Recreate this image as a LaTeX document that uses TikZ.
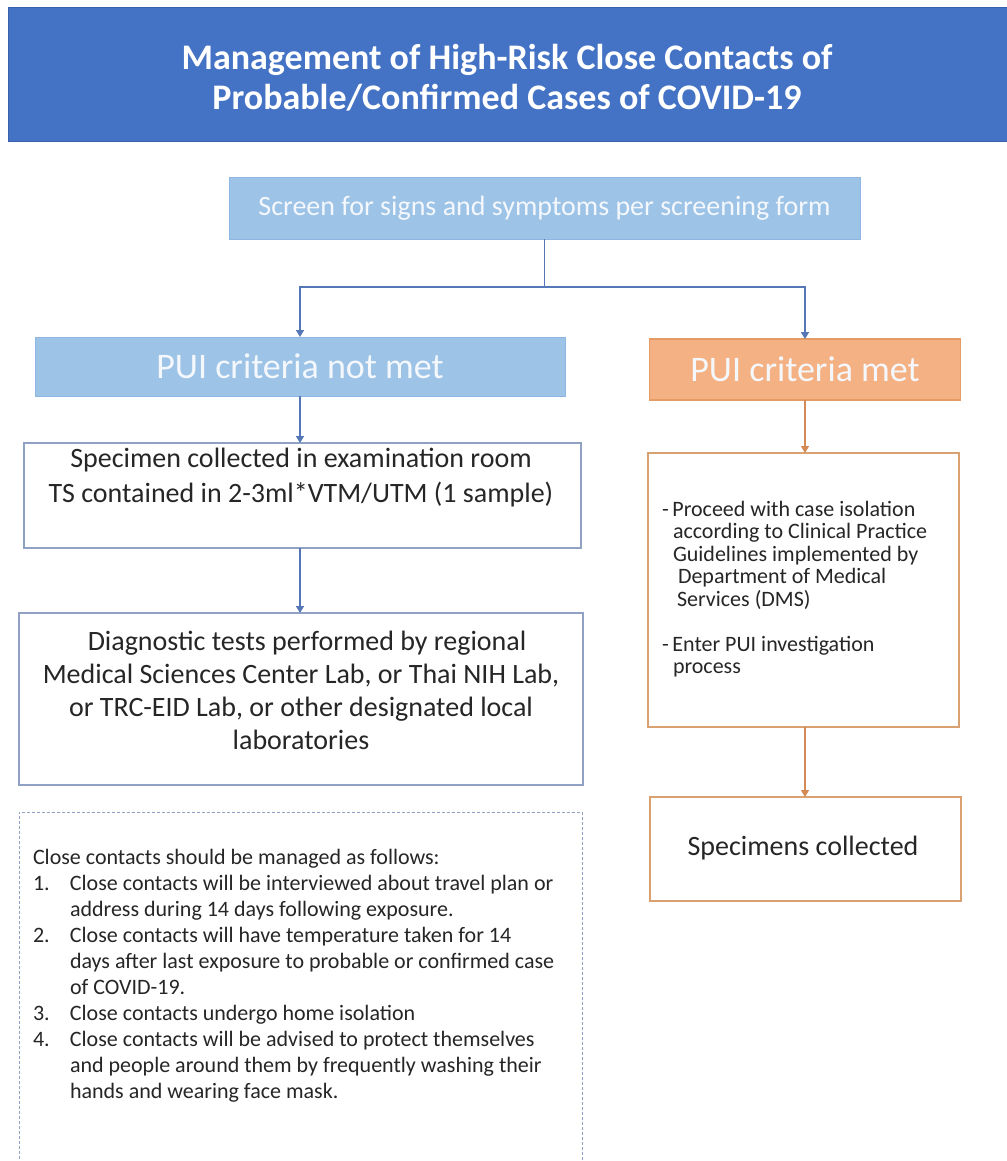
\documentclass[tikz,border=0pt]{standalone}
\usepackage{fontspec}
\setmainfont{Carlito}
\usetikzlibrary{arrows.meta}
\definecolor{banner}{HTML}{4472C4}
\definecolor{bannerline}{HTML}{3A62AC}
\definecolor{lightblue}{HTML}{9DC3E6}
\definecolor{lightblueline}{HTML}{8FB6E0}
\definecolor{blueline}{HTML}{5677B5}
\definecolor{grayline}{HTML}{8FA2C4}
\definecolor{orangefill}{HTML}{F4B183}
\definecolor{orangeline}{HTML}{E69A64}
\definecolor{orangearrow}{HTML}{D38A55}
\definecolor{orangebox}{HTML}{D9A070}
\definecolor{txt}{HTML}{262626}
\definecolor{softwhite}{HTML}{F4F8FD}
\begin{document}
\begin{tikzpicture}[x=1pt,y=-1pt,
  every node/.style={inner sep=0pt,outer sep=0pt},
  bannerbox/.style={draw=bannerline,fill=banner,line width=1pt},
  bluebox/.style={draw=lightblueline,fill=lightblue,line width=1pt},
  whitebox/.style={draw=grayline,fill=white,line width=1.2pt},
  dashbox/.style={draw=grayline,fill=white,line width=0.9pt,dash pattern=on 3pt off 2pt},
  orangebox/.style={draw=orangeline,fill=orangefill,line width=1.2pt},
  obox/.style={draw=orangebox,fill=white,line width=1.4pt},
  barrow/.style={draw=blueline,line width=1.5pt,-{Triangle[length=7pt,width=8pt]}},
  bline/.style={draw=blueline,line width=1.5pt},
  oarrow/.style={draw=orangearrow,line width=1.5pt,-{Triangle[length=7pt,width=8pt]}},
  bodytext/.style={text=txt,font=\fontsize{28}{33}\selectfont,align=center},
]
\useasboundingbox (0,0) rectangle (1006,1161);
\fill[white] (0,0) rectangle (1006,1161);

% title banner
\node[bannerbox,minimum width=1010pt,minimum height=134pt] (banner) at (513,75) {};
\node[text=white,font=\fontsize{36}{40}\selectfont\bfseries,align=center] (title) at (507,78)
  {Management of High-Risk Close Contacts of\\Probable/Confirmed Cases of COVID-19};

% screen box
\node[bluebox,minimum width=631pt,minimum height=61pt,text=softwhite,font=\fontsize{28}{33}\selectfont] (screen) at (544.5,208.5)
  {Screen for signs and symptoms per screening form};

% criteria boxes
\node[bluebox,minimum width=530pt,minimum height=59pt,text=softwhite,font=\fontsize{36}{40}\selectfont] (notmet) at (300,366.5)
  {PUI criteria not met};
\node[orangebox,minimum width=311pt,minimum height=61pt,text=softwhite,font=\fontsize{36}{40}\selectfont] (met) at (805,369.5)
  {PUI criteria met};

% left column
\node[whitebox,minimum width=557pt,minimum height=105pt] (spec) at (302.5,495.5) {};
\node[bodytext,font=\fontsize{28}{35}\selectfont] (spectxt) at (301,478)
  {Specimen collected in examination room\\TS contained in 2-3ml*VTM/UTM (1 sample)};

\node[whitebox,minimum width=564pt,minimum height=172pt] (diag) at (301,699) {};
\node[bodytext] (diagtxt) at (301,690)
  {\hspace*{12pt}Diagnostic tests performed by regional\\Medical Sciences Center Lab, or Thai NIH Lab,\\or TRC-EID Lab, or other designated local\\laboratories};

\node[dashbox,minimum width=563pt,minimum height=365pt] (notes) at (300.5,994.5) {};
\node[text=txt,font=\fontsize{22}{26}\selectfont,align=left,anchor=west] (notestxt) at (33,976)
  {Close contacts should be managed as follows:\\
   \makebox[37pt][l]{1.}Close contacts will be interviewed about travel plan or\\
   \hspace*{37pt}address during 14 days following exposure.\\
   \makebox[37pt][l]{2.}Close contacts will have temperature taken for 14\\
   \hspace*{37pt}days after last exposure to probable or confirmed case\\
   \hspace*{37pt}of COVID-19.\\
   \makebox[37pt][l]{3.}Close contacts undergo home isolation\\
   \makebox[37pt][l]{4.}Close contacts will be advised to protect themselves\\
   \hspace*{37pt}and people around them by frequently washing their\\
   \hspace*{37pt}hands and wearing face mask.};

% right column
\node[obox,minimum width=311pt,minimum height=274pt] (iso) at (803.5,590) {};
\node[text=txt,font=\fontsize{22}{22.5}\selectfont,align=left,anchor=west] (isotxt) at (662,589)
  {-\,Proceed with case isolation\\
   \hspace*{11pt}according to Clinical Practice\\
   \hspace*{11pt}Guidelines implemented by\\
   \hspace*{16pt}Department of Medical\\
   \hspace*{15pt}Services (DMS)\\[22.5pt]
   -\,Enter PUI investigation\\
   \hspace*{11pt}process};

\node[obox,minimum width=311pt,minimum height=104pt] (coll) at (805.5,849)
  {};
\node[bodytext] (colltxt) at (803,848) {Specimens collected};

% connectors
\draw[bline] (screen.south) -- (screen.south |- 0,287) coordinate (split);
\draw[barrow] (split) -| (notmet.north);
\draw[barrow] (split) -| (met.north);
\draw[barrow] (notmet.south) -- (notmet.south |- spec.north);
\draw[barrow] (notmet.south |- spec.south) -- (notmet.south |- diag.north);
\draw[oarrow] (met.south) -- (met.south |- iso.north);
\draw[oarrow] (met.south |- iso.south) -- (met.south |- coll.north);
\end{tikzpicture}
\end{document}
